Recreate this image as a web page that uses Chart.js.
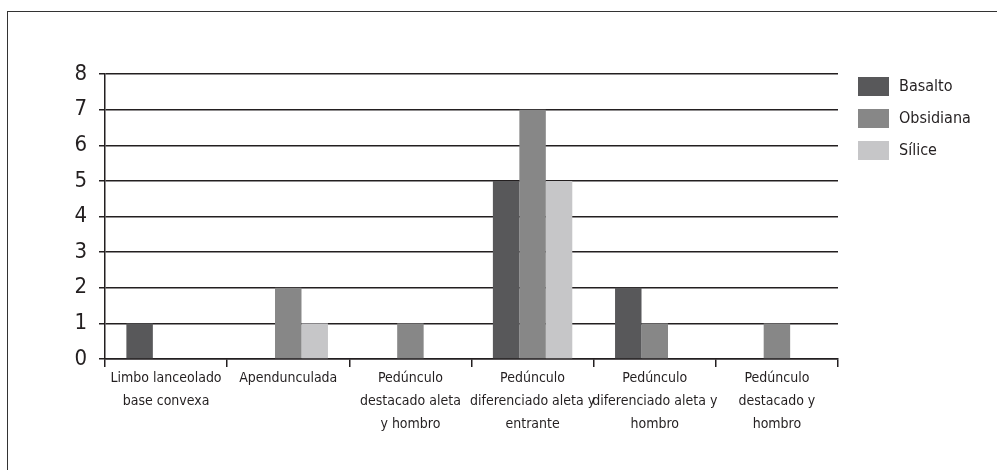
<!DOCTYPE html>
<html>
<head>
<meta charset="utf-8">
<script src="https://cdn.jsdelivr.net/npm/chart.js@4.4.1/dist/chart.umd.min.js"></script>
<style>
	html, body { margin: 0; padding: 0; background: #fff; }
	#wrap { position: relative; width: 997px; height: 470px; overflow: hidden; }
	#frame { position: absolute; left: 7px; top: 11px; width: 1200px; height: 600px; border-left: 1.5px solid #333; border-top: 1.5px solid #333; }
	canvas { position: absolute; left: 0; top: 0; }
</style>
</head>
<body>
<div id="wrap">
	<div id="frame"></div>
	<canvas id="chart" width="997" height="470"></canvas>
</div>
<script>
// chart data
const categories = [
	["Limbo lanceolado", "base convexa"],
	["Apendunculada"],
	["Pedúnculo", "destacado aleta", "y hombro"],
	["Pedúnculo", "diferenciado aleta y", "entrante"],
	["Pedúnculo", "diferenciado aleta y", "hombro"],
	["Pedúnculo", "destacado y", "hombro"],
];
const seriesNames = ["Basalto", "Obsidiana", "Sílice"];
const basalto = [1, 0, 0, 5, 2, 0];
const obsidiana = [0, 2, 1, 7, 1, 1];
const silice = [0, 1, 0, 5, 0, 0];
const seriesColors = ["#58585a", "#878787", "#c6c6c8"];

const FONT = "'Liberation Sans Narrow', 'DejaVu Sans Condensed', 'Roboto', sans-serif";
const INK = "#231f20";

// legend drawn by hand at the right of the plot
const sideLegend = {
	id: "sideLegend",
	afterDraw(chart) {
		const ctx = chart.ctx;
		ctx.save();
		chart.data.datasets.forEach((ds, i) => {
			const y = 77 + i * 32;
			ctx.fillStyle = ds.backgroundColor;
			ctx.fillRect(858, y, 31, 19);
			ctx.fillStyle = INK;
			ctx.font = "16px " + FONT;
			ctx.textBaseline = "middle";
			ctx.textAlign = "left";
			ctx.fillText(ds.label, 899, y + 10);
		});
		ctx.restore();
	},
};

const ctx = document.getElementById("chart").getContext("2d");
new Chart(ctx, {
	type: "bar",
	data: {
		labels: categories,
		datasets: [
			{ label: seriesNames[0], data: basalto, backgroundColor: seriesColors[0] },
			{ label: seriesNames[1], data: obsidiana, backgroundColor: seriesColors[1] },
			{ label: seriesNames[2], data: silice, backgroundColor: seriesColors[2] },
		],
	},
	options: {
		responsive: false,
		animation: false,
		devicePixelRatio: 1,
		layout: { padding: { left: 0, top: 74, right: 159, bottom: 0 } },
		datasets: {
			bar: { categoryPercentage: 0.65, barPercentage: 1, borderWidth: 0 },
		},
		plugins: {
			legend: { display: false },
			tooltip: { enabled: false },
		},
		scales: {
			x: {
				afterFit: (scale) => { scale.height = 111; },
				grid: {
					offset: true,
					drawOnChartArea: false,
					drawTicks: true,
					tickLength: 8,
					color: INK,
					lineWidth: 1.5,
				},
				border: { display: true, color: INK, width: 1.5 },
				ticks: {
					color: INK,
					padding: 0,
					maxRotation: 0,
					autoSkip: false,
					font: { family: FONT, size: 14, lineHeight: 1.65 },
				},
			},
			y: {
				min: 0,
				max: 8,
				afterFit: (scale) => { scale.width = 105; },
				grid: {
					color: INK,
					lineWidth: 1.5,
					tickLength: 6,
				},
				border: { display: true, color: INK, width: 1.5 },
				ticks: {
					stepSize: 1,
					color: INK,
					padding: 12,
					font: { family: FONT, size: 22 },
				},
			},
		},
	},
	plugins: [sideLegend],
});
</script>
</body>
</html>
